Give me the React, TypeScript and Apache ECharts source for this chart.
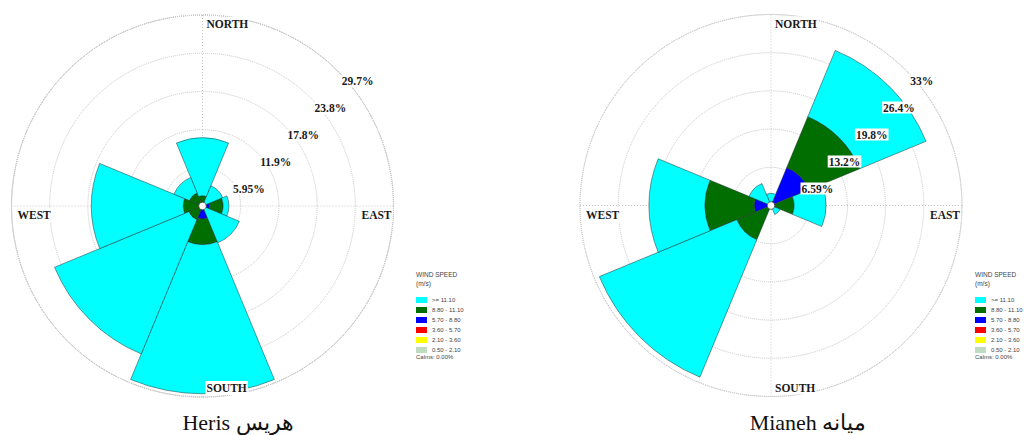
import React, { useEffect, useRef } from "react";
import * as echarts from "echarts";

const directions = ["N", "NE", "E", "SE", "S", "SW", "W", "NW"];
const speedClasses = ["0.50 - 2.10", "2.10 - 3.60", "3.60 - 5.70", "5.70 - 8.80", "8.80 - 11.10", ">= 11.10"];
const classColors = ["#C0DCC0", "#FFFF00", "#FF0000", "#0000FF", "#006E00", "#00FFFF"];
const compassLabels = ["NORTH", "EAST", "SOUTH", "WEST"];

// Heris (percent of time, by direction)
const herisPale = [0, 0, 0, 0, 0, 0, 0, 0];
const herisYellow = [0, 0, 0, 0, 0, 0, 0, 0];
const herisRed = [0, 0, 0, 0, 0, 0, 0, 0];
const herisBlue = [0, 0, 1.1, 0, 2.0, 0, 0, 0];
const herisGreen = [1.6, 0.3, 2.1, 0.5, 4.0, 2.3, 3.0, 2.2];
const herisCyan = [9.0, 3.1, 0.9, 5.7, 23.2, 22.6, 14.3, 2.6];
const herisRingLabels = ["5.95%", "11.9%", "17.8%", "23.8%", "29.7%"];
const herisMax = 29.7;
const herisCaption = "Heris هریس";

// Mianeh
const mianehPale = [0, 0, 0, 0, 0, 0, 0, 0];
const mianehYellow = [0, 0, 0, 0, 0, 0, 0, 0];
const mianehRed = [0, 0, 0, 0, 0, 0, 0, 0];
const mianehBlue = [0, 7.1, 0.8, 0, 0, 0, 2.9, 0.3];
const mianehGreen = [0, 9.5, 3.2, 0, 0, 6.4, 8.5, 0];
const mianehCyan = [2.1, 12.4, 5.5, 1.7, 0, 25.7, 9.7, 3.8];
const mianehRingLabels = ["6.59%", "13.2%", "19.8%", "26.4%", "33%"];
const mianehMax = 33;
const mianehCaption = "Mianeh میانه";

const calmsText = "Calms: 0.00%";

export default function App() {
  const ref = useRef<HTMLDivElement>(null);
  useEffect(() => {
    if (!ref.current) return;
    document.body.style.margin = "0";
    const chart = echarts.init(ref.current, undefined, { renderer: "svg" });

    const roses = [
      {
        cx: 202.5, cy: 206, r: 191, max: herisMax, rings: herisRingLabels, caption: herisCaption,
        classes: [herisPale, herisYellow, herisRed, herisBlue, herisGreen, herisCyan],
        legendX: 411, captionX: 238,
      },
      {
        cx: 771, cy: 205.5, r: 191, max: mianehMax, rings: mianehRingLabels, caption: mianehCaption,
        classes: [mianehPale, mianehYellow, mianehRed, mianehBlue, mianehGreen, mianehCyan],
        legendX: 970, captionX: 808,
      },
    ];

    const serif = "Liberation Serif";
    const gridColor = "#c6c6c6";
    const graphics: any[] = [];
    const series: any[] = [];

    roses.forEach((rose, ri) => {
      speedClasses.forEach((name, ci) => {
        series.push({
          type: "bar",
          coordinateSystem: "polar",
          polarIndex: ri,
          stack: "rose" + ri,
          name,
          barCategoryGap: "0%",
          silent: true,
          data: rose.classes[ci].map((v) => (v > 0 ? v : null)),
          itemStyle: { color: classColors[ci], borderColor: "#203030", borderWidth: 0.5 },
        });
      });
      const { cx, cy, r } = rose;
      // crosshair
      graphics.push({ type: "line", z: 0, silent: true, shape: { x1: cx, y1: cy - r, x2: cx, y2: cy + r }, style: { stroke: gridColor, lineWidth: 1, lineDash: [1, 2] } });
      graphics.push({ type: "line", z: 0, silent: true, shape: { x1: cx - r, y1: cy, x2: cx + r, y2: cy }, style: { stroke: gridColor, lineWidth: 1, lineDash: [1, 2] } });
      // calm hole
      graphics.push({ type: "circle", z: 100, silent: true, shape: { cx, cy, r: 3.8 }, style: { fill: "#fff", stroke: "#444", lineWidth: 0.8 } });
      // compass labels
      const font = `bold 11.5px "${serif}"`;
      const pos = [
        [cx + 3, cy - 182],
        [cx + 158, cy + 9],
        [cx + 3, cy + 182],
        [cx - 186, cy + 9],
      ];
      compassLabels.forEach((t, i) => {
        graphics.push({ type: "text", z: 100, silent: true, x: pos[i][0], y: pos[i][1], style: { text: t, font, fill: "#1a1a1a", align: "left", verticalAlign: "middle", backgroundColor: "#fff", padding: [1, 1] } });
      });
      // ring labels
      rose.rings.forEach((t, k) => {
        graphics.push({ type: "text", z: 100, silent: true, x: cx + 29.5 + 27.2 * k, y: cy - 17 - 27 * k, style: { text: t, font, fill: "#1a1a1a", align: "left", verticalAlign: "middle", backgroundColor: "#fff", padding: [0, 1] } });
      });
      // legend titles
      const lx = rose.legendX + 5;
      graphics.push({ type: "text", z: 100, silent: true, x: lx, y: 274, style: { text: "WIND SPEED", font: '6.5px "Liberation Sans"', fill: "#444", align: "left", verticalAlign: "middle" } });
      graphics.push({ type: "text", z: 100, silent: true, x: lx, y: 283, style: { text: "(m/s)", font: '6.5px "Liberation Sans"', fill: "#444", align: "left", verticalAlign: "middle" } });
      graphics.push({ type: "text", z: 100, silent: true, x: lx, y: 357, style: { text: calmsText, font: '6px "Liberation Sans"', fill: "#444", align: "left", verticalAlign: "middle" } });
      // caption
      graphics.push({ type: "text", z: 100, silent: true, x: rose.captionX, y: 422, style: { text: rose.caption, font: `22px "${serif}"`, fill: "#111", align: "center", verticalAlign: "middle" } });
    });

    const legendData = [...speedClasses].reverse();

    chart.setOption({
      animation: false,
      polar: roses.map((rose) => ({ center: [rose.cx, rose.cy], radius: [0, rose.r] })),
      angleAxis: roses.map((_, ri) => ({
        polarIndex: ri,
        type: "category",
        data: directions,
        startAngle: 112.5,
        clockwise: true,
        boundaryGap: true,
        axisLine: { show: true, lineStyle: { color: gridColor, type: "dotted", width: 1 } },
        axisTick: { show: false },
        axisLabel: { show: false },
        splitLine: { show: false },
      })),
      radiusAxis: roses.map((rose, ri) => ({
        polarIndex: ri,
        type: "value",
        min: 0,
        max: rose.max,
        interval: rose.max / 5,
        axisLine: { show: false },
        axisTick: { show: false },
        axisLabel: { show: false },
        splitLine: { show: true, lineStyle: { color: gridColor, type: "dotted", width: 1 } },
      })),
      legend: roses.map((rose) => ({
        left: rose.legendX,
        top: 292,
        orient: "vertical",
        icon: "rect",
        itemWidth: 11,
        itemHeight: 6,
        itemGap: 4,
        selectedMode: false,
        data: legendData,
        itemStyle: { borderWidth: 0 },
        textStyle: { fontSize: 6, lineHeight: 6, color: "#444", fontFamily: "Liberation Sans" },
      })),
      graphic: graphics,
      series,
    });

    return () => chart.dispose();
  }, []);
  return <div ref={ref} style={{ position: "absolute", left: 0, top: 0, width: 1024, height: 435 }} />;
}
